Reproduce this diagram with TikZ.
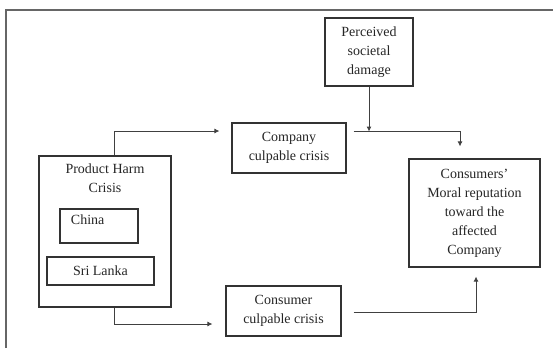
\documentclass[tikz,border=0pt]{standalone}
\usepackage{fontspec}
\setmainfont{Liberation Serif}
\usetikzlibrary{arrows.meta,calc}
\begin{document}
\begin{tikzpicture}[x=1pt,y=-1pt,
  box/.style={draw=black!80, line width=1.1pt, inner sep=0pt, fill=white},
  txt/.style={font=\fontsize{14}{19}\selectfont, align=center, text=black!85},
  conn/.style={draw=black!75, line width=0.9pt},
  tip/.style={-{Latex[length=5pt,width=5pt]}}]
\useasboundingbox (0,0) rectangle (553,348);
\draw[black!60, line width=1.2pt] (6,348) -- (6,10) -- (553,10);

\node[box, txt, minimum width=88pt, minimum height=68pt] (perc) at (369,52) {Perceived\\societal\\damage};
\node[box, txt, minimum width=114pt, minimum height=50pt] (comp) at (289,148) {Company\\culpable crisis};
\node[box, minimum width=132pt, minimum height=151pt] (prod) at (105,231.5) {};
\node[txt, anchor=north] (prodt) at ($(prod.north)+(0,5)$) {Product Harm\\Crisis};
\node[box, minimum width=78pt, minimum height=34pt] (china) at (99,226) {};
\node[txt, anchor=north west] (chinat) at ($(china.north west)+(8,3)$) {China};
\node[box, txt, minimum width=107pt, minimum height=28pt] (sri) at (100.5,271) {Sri Lanka};
\node[box, txt, minimum width=131pt, minimum height=108pt] (moral) at (474.5,213) {Consumers'\\Moral reputation\\toward the\\affected\\Company};
\node[box, txt, minimum width=115pt, minimum height=50pt] (cons) at (283.5,311) {Consumer\\culpable crisis};

\draw[conn, tip] ($(prod.north west)+(76,0)$) |- ($(comp.west)+(-12,-17)$);
\draw[conn, tip] ($(prod.south west)+(76,0)$) |- ($(cons.west)+(-13,13)$);
\draw[conn, tip] ($(comp.east)+(7,-17)$) -| ($(moral.north)+(-14.5,-12)$);
\draw[conn, tip] (perc.south) -- ($(perc.south)+(0,45)$);
\draw[conn, tip] ($(cons.east)+(12,1)$) -| ($(moral.south)+(1.5,9)$);
\end{tikzpicture}
\end{document}
